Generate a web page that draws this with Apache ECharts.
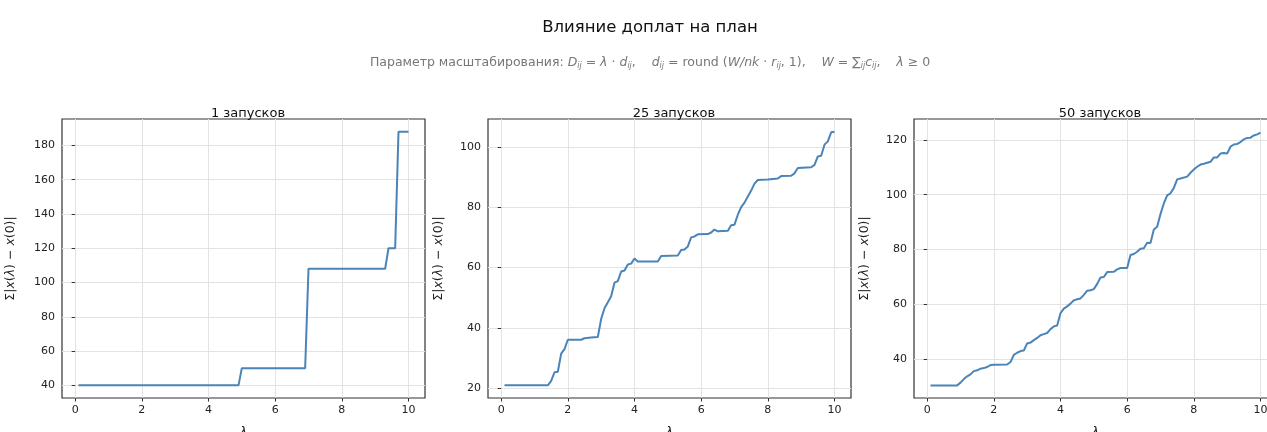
<!DOCTYPE html>
<html style="height: 100%">
<head>
  <meta charset="utf-8">
  <script type="text/javascript" src="https://cdn.jsdelivr.net/npm/echarts@6/dist/echarts.min.js"></script>
</head>
<body style="height: 100%; width: 100%; margin: 0; background: #fff">
<div id="main" style="width: 1267px; height: 432px;"></div>
<script type="text/javascript">

// panel titles
var panelTitles = ['1 запусков', '25 запусков', '50 запусков'];

// lambda / sum|x(lambda) - x(0)| (breakpoints)
var run1 = [[0.1, 40], [4.9, 40], [5.0, 50], [6.9, 50], [7.0, 108], [9.3, 108], [9.4, 120], [9.6, 120], [9.7, 188], [10.0, 188]];

var run25 = [[0.1, 21], [1.4, 21], [1.5, 22.5], [1.6, 25.3], [1.7, 25.5], [1.8, 31.5], [1.9, 33], [2.0, 36.1], [2.4, 36.1],
  [2.5, 36.6], [2.7, 36.8], [2.9, 37], [3.0, 43], [3.1, 46.5], [3.2, 48.5], [3.3, 50.5], [3.4, 55], [3.5, 55.5], [3.6, 58.7],
  [3.7, 59], [3.8, 61], [3.9, 61.3], [4.0, 63], [4.1, 62], [4.7, 62], [4.8, 63.8], [5.3, 64], [5.4, 65.8], [5.5, 66], [5.6, 67],
  [5.7, 70], [5.8, 70.3], [5.9, 71], [6.2, 71.1], [6.3, 71.6], [6.4, 72.6], [6.5, 72], [6.8, 72.2], [6.9, 74], [7.0, 74.2],
  [7.1, 77.5], [7.2, 80], [7.3, 81.5], [7.4, 83.5], [7.5, 85.5], [7.6, 87.8], [7.7, 89], [8.0, 89.2], [8.3, 89.5], [8.4, 90.3],
  [8.7, 90.4], [8.8, 91.2], [8.9, 93], [9.3, 93.2], [9.4, 94], [9.5, 96.8], [9.6, 97], [9.7, 100.7], [9.8, 101.8], [9.9, 104.8], [10.0, 105]];

var run50 = [[0.1, 30.5], [0.9, 30.5], [1.0, 31.5], [1.1, 32.8], [1.2, 33.8], [1.3, 34.5], [1.4, 35.7], [1.5, 36], [1.6, 36.6],
  [1.7, 36.8], [1.8, 37.2], [1.9, 37.9], [2.0, 38], [2.4, 38.1], [2.5, 39], [2.6, 41.6], [2.7, 42.4], [2.8, 43], [2.9, 43.2],
  [3.0, 45.8], [3.1, 46.1], [3.2, 47], [3.3, 47.8], [3.4, 48.8], [3.5, 49.2], [3.6, 49.6], [3.7, 51], [3.8, 52], [3.9, 52.3],
  [4.0, 56.8], [4.1, 58.5], [4.2, 59.3], [4.3, 60.3], [4.4, 61.5], [4.5, 61.9], [4.6, 62.2], [4.7, 63.5], [4.8, 65], [4.9, 65.2],
  [5.0, 65.6], [5.1, 67.5], [5.2, 69.8], [5.3, 70], [5.4, 71.8], [5.6, 71.9], [5.7, 72.8], [5.8, 73.3], [6.0, 73.3], [6.1, 78],
  [6.2, 78.4], [6.3, 79.2], [6.4, 80.3], [6.5, 80.5], [6.6, 82.5], [6.7, 82.4], [6.8, 87.3], [6.9, 88.3], [7.0, 93], [7.1, 96.8],
  [7.2, 99.8], [7.3, 100.5], [7.4, 102.5], [7.5, 105.6], [7.6, 105.9], [7.8, 106.6], [7.9, 108], [8.0, 109.2], [8.1, 110.2],
  [8.2, 111], [8.3, 111.3], [8.5, 112], [8.6, 113.6], [8.7, 113.6], [8.8, 115], [8.9, 115.2], [9.0, 115], [9.1, 117.5],
  [9.2, 118.3], [9.3, 118.5], [9.4, 119.2], [9.5, 120.2], [9.6, 120.7], [9.7, 120.8], [9.8, 121.6], [9.9, 122], [10.0, 122.6]];

// tick labels
var xTicks = [0, 2, 4, 6, 8, 10];
var yTicks1 = [40, 60, 80, 100, 120, 140, 160, 180];
var yTicks25 = [20, 40, 60, 80, 100];
var yTicks50 = [40, 60, 80, 100, 120];

var FONT = '"DejaVu Sans", sans-serif';
var runs = [run1, run25, run50];
var yTicks = [yTicks1, yTicks25, yTicks50];
var yRange = [[32.6, 195.4], [16.8, 109.2], [25.9, 127.6]];
var gridLeft = [62, 488, 914];
var nameGap = [45, 43, 43];

var grids = [], xAxes = [], yAxes = [], series = [];
var titles = [
  {
    text: 'Влияние доплат на план', left: 645, top: 14, textAlign: 'center',
    textStyle: { fontFamily: FONT, fontSize: 16.5, fontWeight: 'normal', color: '#111' }
  },
  {
    text: 'Параметр масштабирования: {i|D}{s|ij}{n| = }{i|λ}{n| · }{i|d}{s|ij}{n|,    }{i|d}{s|ij}{n| = round (}{i|W/nk}{n| · }{i|r}{s|ij}{n|, 1),    }{i|W}{n| = ∑}{s|ij}{i|c}{s|ij}{n|,    }{i|λ}{n| ≥ 0}',
    left: 645, top: 50, textAlign: 'center',
    textStyle: {
      fontFamily: FONT, fontSize: 12.5, fontWeight: 'normal', color: '#777',
      rich: {
        n: { fontFamily: FONT, fontSize: 12.5, color: '#777' },
        i: { fontFamily: FONT, fontSize: 12.5, color: '#777', fontStyle: 'italic' },
        s: { fontFamily: FONT, fontSize: 8, color: '#777', fontStyle: 'italic', padding: [7, 0, 0, 0] }
      }
    }
  }
];

for (var k = 0; k < 3; k++) {
  grids.push({
    left: gridLeft[k], top: 119, width: 363, height: 279,
    outerBoundsMode: 'none', containLabel: false,
    show: true, borderColor: '#333', borderWidth: 1.2, backgroundColor: '#fff'
  });
  titles.push({
    text: panelTitles[k], left: gridLeft[k] + 181, top: 102, textAlign: 'center',
    textStyle: { fontFamily: FONT, fontSize: 13, fontWeight: 'normal', color: '#111' }
  });
  xAxes.push({
    type: 'value', gridIndex: k, min: -0.395, max: 10.495,
    name: 'λ', nameLocation: 'middle', nameGap: 28,
    nameTextStyle: { fontFamily: FONT, fontSize: 12.5, fontStyle: 'italic', color: '#222' },
    axisLine: { show: false },
    axisTick: { show: true, length: 3.5, customValues: xTicks, lineStyle: { color: '#333' } },
    axisLabel: { customValues: xTicks, margin: 7, fontFamily: FONT, fontSize: 11, color: '#222' },
    splitLine: { show: true, lineStyle: { color: '#e3e3e3', width: 1 } }
  });
  yAxes.push({
    type: 'value', gridIndex: k, min: yRange[k][0], max: yRange[k][1],
    name: '{n|Σ|}{i|x}{n|(}{i|λ}{n|) − }{i|x}{n|(0)|}', nameLocation: 'middle', nameGap: nameGap[k],
    nameTextStyle: {
      rich: {
        n: { fontFamily: FONT, fontSize: 12.5, color: '#222' },
        i: { fontFamily: FONT, fontSize: 12.5, color: '#222', fontStyle: 'italic' }
      }
    },
    axisLine: { show: false },
    axisTick: { show: true, length: 3.5, customValues: yTicks[k], lineStyle: { color: '#333' } },
    axisLabel: { customValues: yTicks[k], margin: 7, fontFamily: FONT, fontSize: 11, color: '#222' },
    splitLine: { show: true, lineStyle: { color: '#e3e3e3', width: 1 } }
  });
  series.push({
    type: 'line', xAxisIndex: k, yAxisIndex: k,
    data: runs[k], showSymbol: false, smooth: false,
    lineStyle: { color: '#4a84b8', width: 2 },
    animation: false
  });
}

var myChart = echarts.init(document.getElementById('main'));
myChart.setOption({
  backgroundColor: '#fff',
  animation: false,
  title: titles,
  grid: grids,
  xAxis: xAxes,
  yAxis: yAxes,
  series: series
});
</script>
</body>
</html>
